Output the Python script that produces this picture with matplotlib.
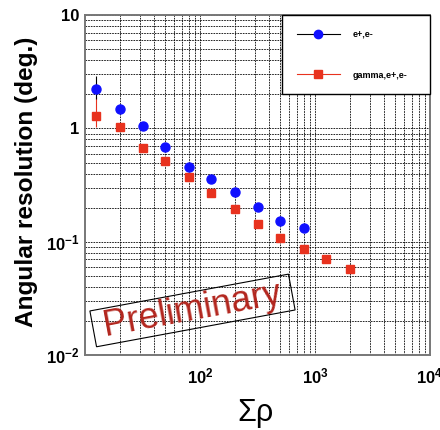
import matplotlib
matplotlib.use("Agg")
import matplotlib.pyplot as plt
from matplotlib.lines import Line2D
import numpy as np

# === DATA ===
rho = [12.5, 20, 32, 50, 80, 125, 200, 320, 500, 800, 1250, 2000]

ee_res = [2.21, 1.47, 1.06, 0.69, 0.46, 0.36, 0.274, 0.201, 0.153, 0.133]
ee_err_lo = [0.40, 0.08, 0.03, 0.02, 0.01, 0.01, 0.005, 0.004, 0.003, 0.003]
ee_err_hi = [0.67, 0.08, 0.03, 0.02, 0.01, 0.01, 0.005, 0.004, 0.003, 0.003]

gee_res = [1.28, 1.02, 0.675, 0.518, 0.374, 0.267, 0.195, 0.145, 0.109, 0.086, 0.070, 0.058]
gee_err_lo = [0.25, 0.05, 0.02, 0.015, 0.01, 0.007, 0.005, 0.004, 0.003, 0.002, 0.002, 0.002]
gee_err_hi = [0.62, 0.05, 0.02, 0.015, 0.01, 0.007, 0.005, 0.004, 0.003, 0.002, 0.002, 0.002]

labels = ["e+,e-", "gamma,e+,e-"]
ytick_vals = [0.01, 0.1, 1, 10]
ytick_lbls = [r"$\mathbf{10^{-2}}$", r"$\mathbf{10^{-1}}$", "1", "10"]
xtick_vals = [100, 1000, 10000]
xtick_lbls = [r"$\mathbf{10^{2}}$", r"$\mathbf{10^{3}}$", r"$\mathbf{10^{4}}$"]

# === STYLE ===
plt.rcParams['font.family'] = ['Liberation Sans', 'DejaVu Sans']
plt.rcParams['mathtext.fontset'] = 'custom'
plt.rcParams['mathtext.rm'] = 'Liberation Sans'
plt.rcParams['mathtext.bf'] = 'Liberation Sans:bold'

blue = '#1010ff'
red = '#e8321e'

fig = plt.figure(figsize=(4.4, 4.3), dpi=100)
ax = fig.add_axes([0.193, 0.174, 0.784, 0.791])

ax.errorbar(rho[:len(ee_res)], ee_res, yerr=[ee_err_lo, ee_err_hi], fmt='o',
            color=blue, ecolor='black', elinewidth=0.8, markersize=6.5, zorder=4)
ax.errorbar(rho, gee_res, yerr=[gee_err_lo, gee_err_hi], fmt='s',
            color=red, ecolor=red, elinewidth=0.8, markersize=6, zorder=3)

ax.set_xscale('log')
ax.set_yscale('log')
ax.set_xlim(10, 10000)
ax.set_ylim(0.01, 10)

ax.grid(True, which='both', color='black', linestyle=(0, (2, 1.2)), linewidth=0.6)
ax.tick_params(which='both', length=0)
ax.set_yticks(ytick_vals)
ax.set_yticklabels(ytick_lbls, fontsize=12, fontweight='bold')
ax.set_xticks(xtick_vals)
ax.set_xticklabels(xtick_lbls, fontsize=12)
ax.tick_params(axis='x', pad=8)
ax.tick_params(axis='y', pad=4)
for s in ax.spines.values():
    s.set_color('#777777')
    s.set_linewidth(1.4)

# legend
handles = [Line2D([], [], color='black', marker='o', markerfacecolor=blue,
                  markeredgecolor=blue, markersize=6, lw=0.8),
           Line2D([], [], color=red, marker='s', markerfacecolor=red,
                  markeredgecolor=red, markersize=6, lw=0.8)]
leg = ax.legend(handles, labels, loc='upper left', mode='expand',
                bbox_to_anchor=(0.571, 0.0, 0.429, 1.0),
                borderaxespad=0, fancybox=False, framealpha=1, edgecolor='black',
                handlelength=4.8, handletextpad=1.4, labelspacing=3.5, borderpad=1.65,
                prop={'size': 6.5, 'weight': 'bold'})
leg.get_frame().set_linewidth(1.0)
leg.set_zorder(6)

# axis titles
fig.text(0.061, 0.577, "Angular resolution (deg.)", rotation=90, ha='center',
         va='center', fontsize=17.6, fontweight='bold')
fig.text(0.58, 0.04, "Σρ", ha='center', va='center', fontsize=22)

# watermark
fig.text(0.4375, 0.278, " Preliminary ", rotation=10.5, ha='center', va='center',
         fontsize=26, color='#b3261e',
         bbox=dict(boxstyle='square,pad=0.02', fc='none', ec='black', lw=0.8))

fig.savefig("out.png", dpi=100)
